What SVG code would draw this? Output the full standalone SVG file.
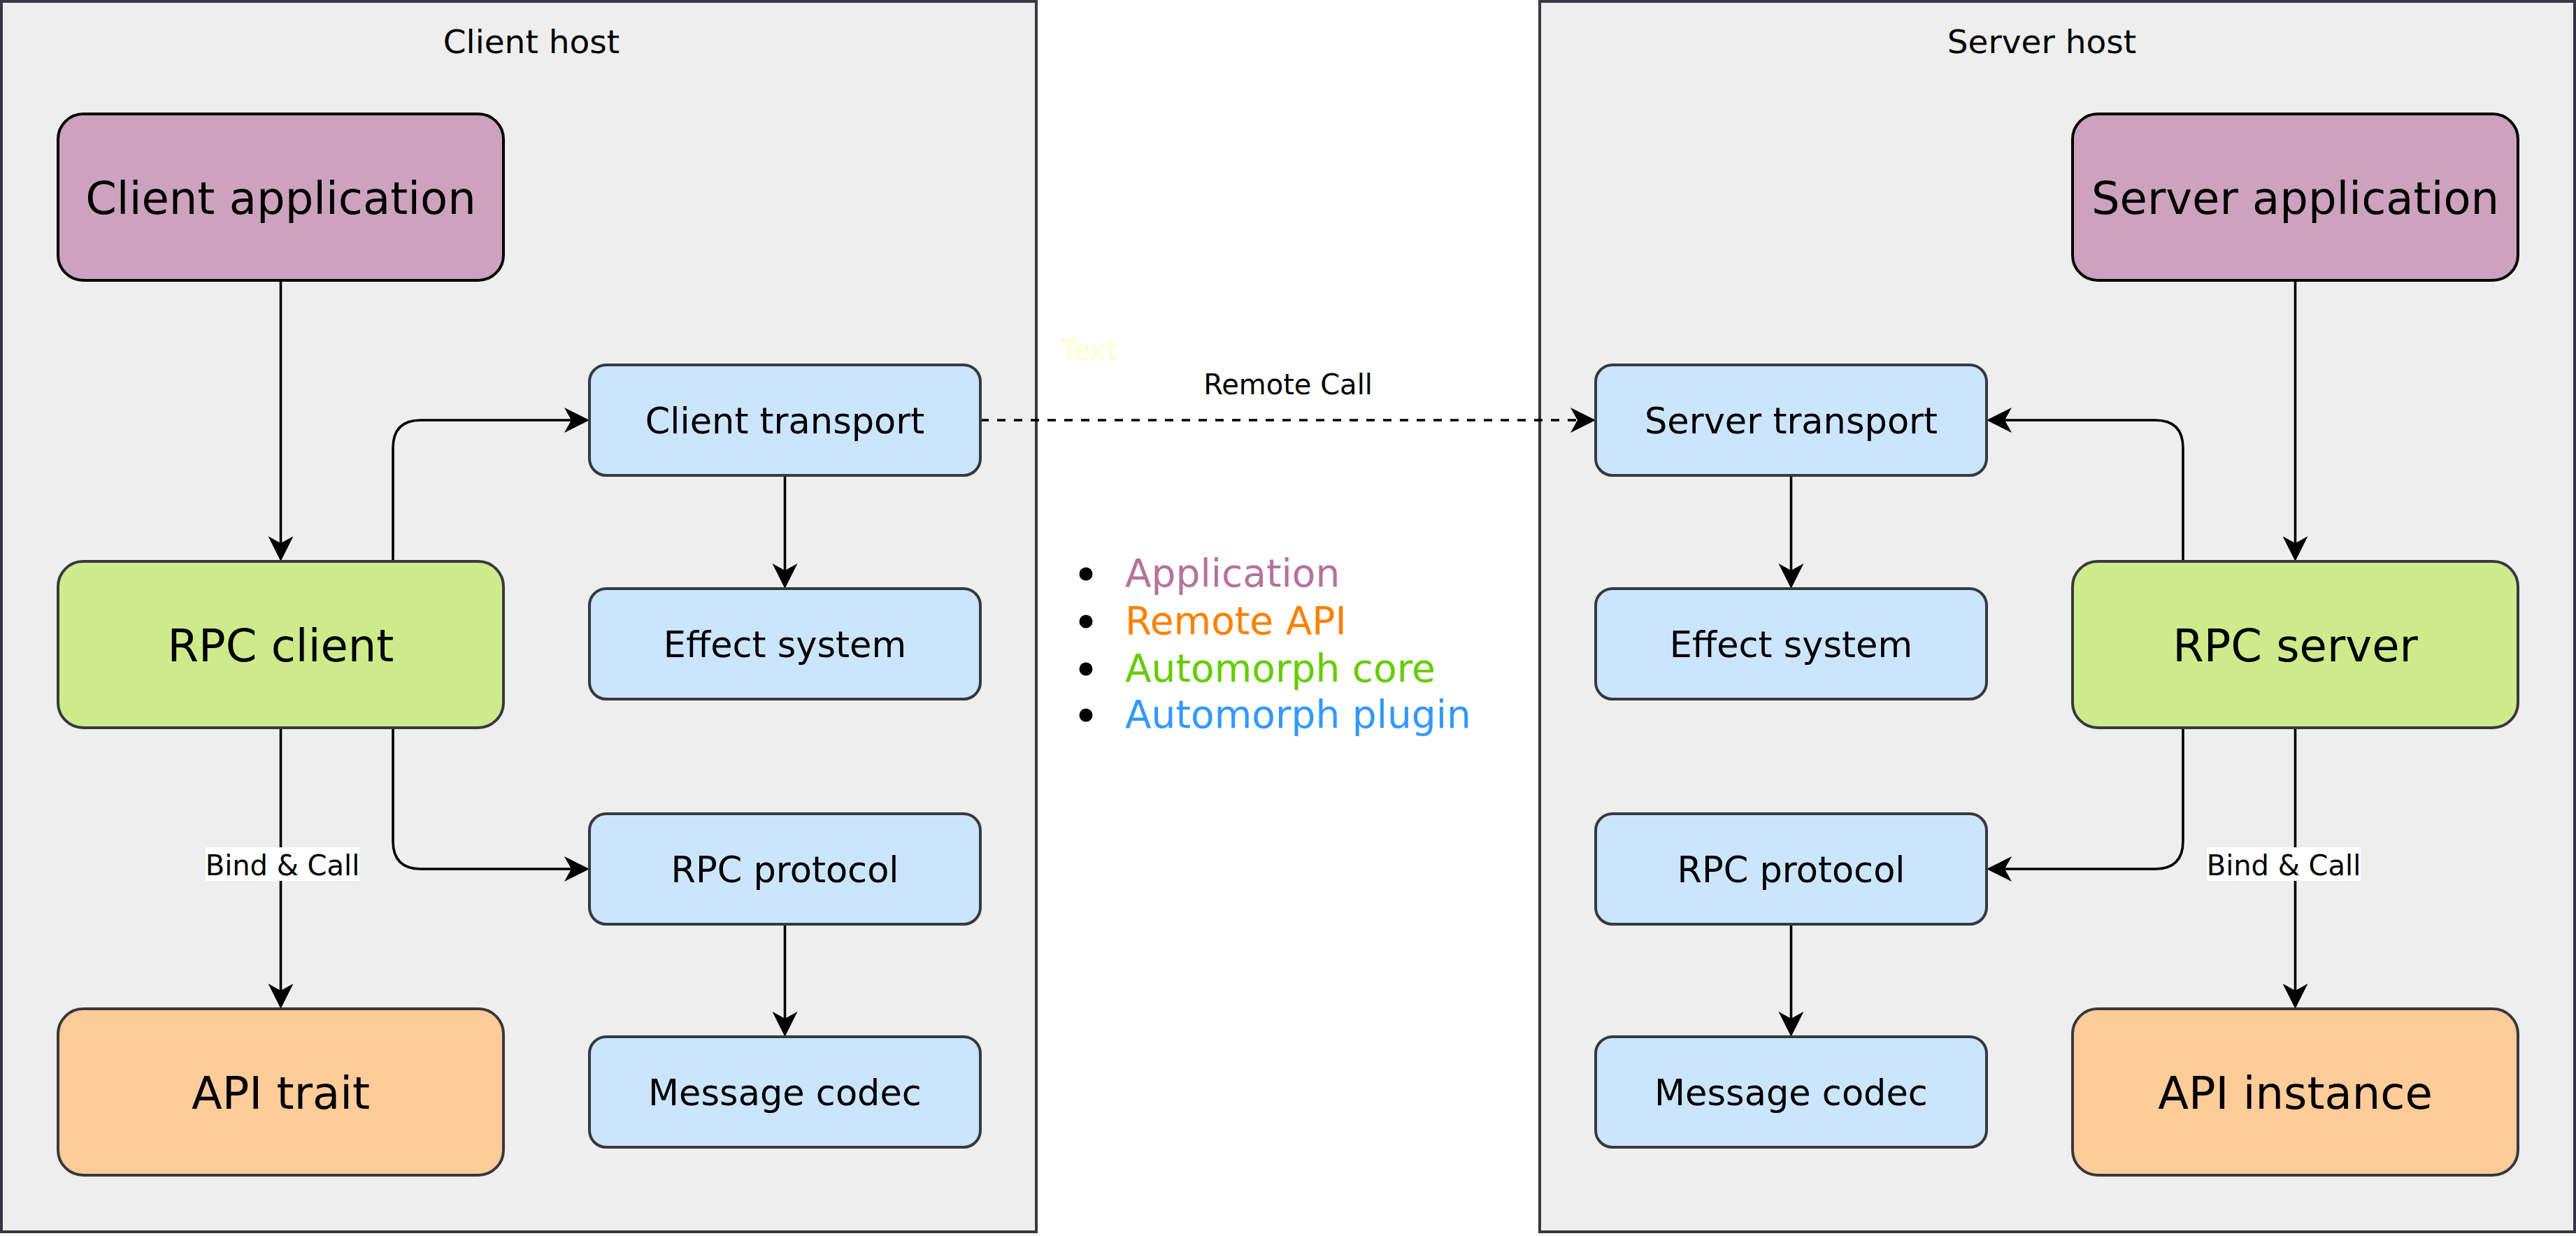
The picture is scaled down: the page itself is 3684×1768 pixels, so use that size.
<svg xmlns="http://www.w3.org/2000/svg" width="3684" height="1768" viewBox="0 0 3684 1768">
<style>
text{font-family:"DejaVu Sans","Liberation Sans",sans-serif;fill:#000}
.host{fill:#eeeeee;stroke:#36393d;stroke-width:4}
.title{font-size:47px;text-anchor:middle}
.app{fill:#cda2be;stroke:#000;stroke-width:4}
.core{fill:#cdeb8b;stroke:#36393d;stroke-width:4}
.api{fill:#ffcc99;stroke:#36393d;stroke-width:4}
.plug{fill:#cce5ff;stroke:#36393d;stroke-width:4}
.big{font-size:64px;text-anchor:middle}
.small{font-size:51px;text-anchor:middle}
.lbl{font-size:40px;text-anchor:middle}
.leg{font-size:55px}
.edge{fill:none;stroke:#000;stroke-width:3.6;marker-end:url(#arr)}
.dash{stroke-dasharray:12 12}
</style>
<defs>
<marker id="arr" markerUnits="userSpaceOnUse" markerWidth="40" markerHeight="40" refX="16" refY="18" orient="auto">
<path d="M0,0 L36,18 L0,36 L10,18 Z" fill="#000"/>
</marker>
</defs>
<rect width="3684" height="1768" fill="#ffffff"/>
<g id="client-host">
<rect class="host" x="2" y="2" width="1480" height="1760"/>
<text class="title" x="760" y="76">Client host</text>
</g>
<g id="server-host">
<rect class="host" x="2202" y="2" width="1480" height="1760"/>
<text class="title" x="2920" y="76">Server host</text>
</g>
<g id="connectors">
<path class="edge" d="M401.5,401 V783"/>
<path class="edge" d="M562,803 V641 Q562,601 602,601 H823"/>
<path class="edge" d="M562,1041 V1203 Q562,1243 602,1243 H823"/>
<path class="edge" d="M401.5,1041 V1423"/>
<path class="edge" d="M1122.5,680 V822"/>
<path class="edge" d="M1122.5,1322 V1463"/>
<path class="edge dash" d="M1402,601 H2262"/>
<path class="edge" d="M3282.5,401 V783"/>
<path class="edge" d="M3122,803 V641 Q3122,601 3082,601 H2861"/>
<path class="edge" d="M3122,1041 V1203 Q3122,1243 3082,1243 H2861"/>
<path class="edge" d="M3282.5,1041 V1423"/>
<path class="edge" d="M2561.5,680 V822"/>
<path class="edge" d="M2561.5,1322 V1463"/>
<rect x="294" y="1212" width="220" height="48" fill="#ffffff"/>
<text class="lbl" x="404" y="1252">Bind &amp; Call</text>
<rect x="3156" y="1212" width="220" height="48" fill="#ffffff"/>
<text class="lbl" x="3266" y="1252">Bind &amp; Call</text>
<text class="lbl" x="1842" y="564">Remote Call</text>
</g>
<g id="client-application">
<rect class="app" x="83" y="163" width="637" height="238" rx="36"/>
<text class="big" x="401.5" y="306">Client application</text>
</g>
<g id="rpc-client">
<rect class="core" x="83" y="803" width="637" height="238" rx="36"/>
<text class="big" x="401.5" y="946">RPC client</text>
</g>
<g id="api-trait">
<rect class="api" x="83" y="1443" width="637" height="238" rx="36"/>
<text class="big" x="401.5" y="1586">API trait</text>
</g>
<g id="client-transport">
<rect class="plug" x="843" y="522" width="559" height="158" rx="24"/>
<text class="small" x="1122.5" y="620">Client transport</text>
</g>
<g id="client-effect-system">
<rect class="plug" x="843" y="842" width="559" height="158" rx="24"/>
<text class="small" x="1122.5" y="940">Effect system</text>
</g>
<g id="client-rpc-protocol">
<rect class="plug" x="843" y="1164" width="559" height="158" rx="24"/>
<text class="small" x="1122.5" y="1262">RPC protocol</text>
</g>
<g id="client-message-codec">
<rect class="plug" x="843" y="1483" width="559" height="158" rx="24"/>
<text class="small" x="1122.5" y="1581">Message codec</text>
</g>
<g id="server-application">
<rect class="app" x="2964" y="163" width="637" height="238" rx="36"/>
<text class="big" x="3282.5" y="306">Server application</text>
</g>
<g id="rpc-server">
<rect class="core" x="2964" y="803" width="637" height="238" rx="36"/>
<text class="big" x="3282.5" y="946">RPC server</text>
</g>
<g id="api-instance">
<rect class="api" x="2964" y="1443" width="637" height="238" rx="36"/>
<text class="big" x="3282.5" y="1586">API instance</text>
</g>
<g id="server-transport">
<rect class="plug" x="2282" y="522" width="559" height="158" rx="24"/>
<text class="small" x="2561.5" y="620">Server transport</text>
</g>
<g id="server-effect-system">
<rect class="plug" x="2282" y="842" width="559" height="158" rx="24"/>
<text class="small" x="2561.5" y="940">Effect system</text>
</g>
<g id="server-rpc-protocol">
<rect class="plug" x="2282" y="1164" width="559" height="158" rx="24"/>
<text class="small" x="2561.5" y="1262">RPC protocol</text>
</g>
<g id="server-message-codec">
<rect class="plug" x="2282" y="1483" width="559" height="158" rx="24"/>
<text class="small" x="2561.5" y="1581">Message codec</text>
</g>
<g id="text-note">
<text x="1517" y="515" style="font-size:40px;fill:#ffffcc">Text</text>
</g>
<g id="legend">
<circle cx="1553" cy="821" r="9.5" fill="#000"/>
<circle cx="1553" cy="889" r="9.5" fill="#000"/>
<circle cx="1553" cy="957" r="9.5" fill="#000"/>
<circle cx="1553" cy="1023" r="9.5" fill="#000"/>
<text class="leg" x="1609" y="839" style="fill:#b5739d">Application</text>
<text class="leg" x="1609" y="907" style="fill:#ff8000">Remote API</text>
<text class="leg" x="1609" y="975" style="fill:#66cc00">Automorph core</text>
<text class="leg" x="1609" y="1041" style="fill:#3399ff">Automorph plugin</text>
</g>
</svg>
